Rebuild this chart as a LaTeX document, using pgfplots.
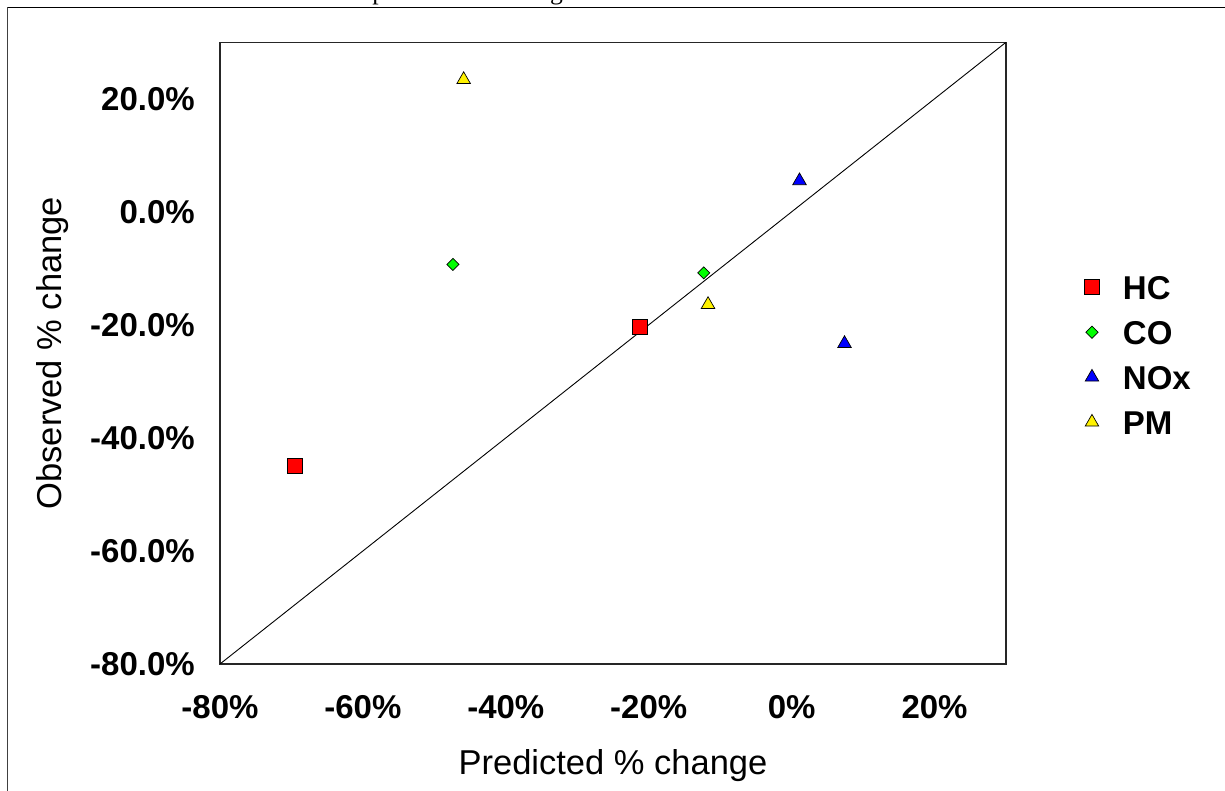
\documentclass[border=0pt]{standalone}
\usepackage{fontspec}
\setmainfont{Liberation Sans}
\newfontfamily\titleserif{Liberation Serif}
\usepackage{pgfplots}
\pgfplotsset{compat=1.18}
\begin{document}
\begin{tikzpicture}[x=1pt,y=1pt]
\useasboundingbox (0,0) rectangle (1225,791);
\draw[black!75, line width=1.2pt] (7.5,-50) -- (7.5,783.5);
\draw[black, line width=1.2pt] (7.5,783.5) -- (1300,783.5);
\node[anchor=base west, font=\titleserif\fontsize{25.6}{30}\selectfont, inner sep=0pt] at (230,791.5) {Observed vs. predicted \% change};
\begin{axis}[
  at={(220pt,127pt)}, anchor=south west,
  scale only axis, width=786pt, height=621.7pt,
  xmin=-80, xmax=30, ymin=-80, ymax=30,
  axis line style={black!85, line width=1.2pt},
  xtick={-80,-60,-40,-20,0,20},
  xticklabels={-80\%,-60\%,-40\%,-20\%,0\%,20\%},
  ytick={-80,-60,-40,-20,0,20},
  yticklabels={-80.0\%,-60.0\%,-40.0\%,-20.0\%,0.0\%,20.0\%},
  tick style={draw=none},
  ticklabel style={font=\fontsize{33}{33}\selectfont\bfseries, inner sep=0pt},
  xticklabel style={anchor=north, yshift=-31pt},
  yticklabel style={anchor=east, xshift=-25pt},
  xlabel={Predicted \% change}, ylabel={Observed \% change},
  label style={font=\fontsize{34.5}{36}\selectfont},
  xlabel style={at={(axis description cs:0.5,-0.177)}, anchor=base},
  ylabel style={at={(axis description cs:-0.2014,0.5)}, anchor=base},
  legend cell align=left,
  legend image code/.code={\draw[mark repeat=1,mark phase=1,#1] plot coordinates {(0pt,0pt)};},
  legend style={at={(1.0996,0.6257)}, anchor=north west, draw=none, fill=none,
    inner sep=0pt, row sep=21pt,
    font=\fontsize{33}{33}\selectfont\bfseries,
    nodes={inner sep=0pt, text height=24pt, text depth=0pt},
    /tikz/every odd column/.append style={column sep=23.5pt}},
]
\addplot[black, line width=0.9pt, forget plot] coordinates {(-80,-80) (30,30)};
\addplot[only marks, mark=square*, mark size=7.5pt, mark options={fill=red, draw=black, line width=0.7pt}]
  coordinates {(-69.5,-45.0) (-21.3,-20.3)};
\addlegendentry{HC}
\addplot[only marks, mark=square*, mark size=4.3pt, mark options={rotate=45, fill=green, draw=black, line width=0.7pt}]
  coordinates {(-47.4,-9.3) (-12.3,-10.8)};
\addlegendentry{CO}
\addplot[only marks, mark=triangle*, mark size=7.8pt, mark options={fill=blue, draw=black, line width=0.7pt}]
  coordinates {(1.1,5.5) (7.4,-23.3)};
\addlegendentry{NOx}
\addplot[only marks, mark=triangle*, mark size=7.8pt, mark options={fill=yellow, draw=black, line width=0.7pt}]
  coordinates {(-45.9,23.4) (-11.7,-16.4)};
\addlegendentry{PM}
\end{axis}
\end{tikzpicture}
\end{document}
